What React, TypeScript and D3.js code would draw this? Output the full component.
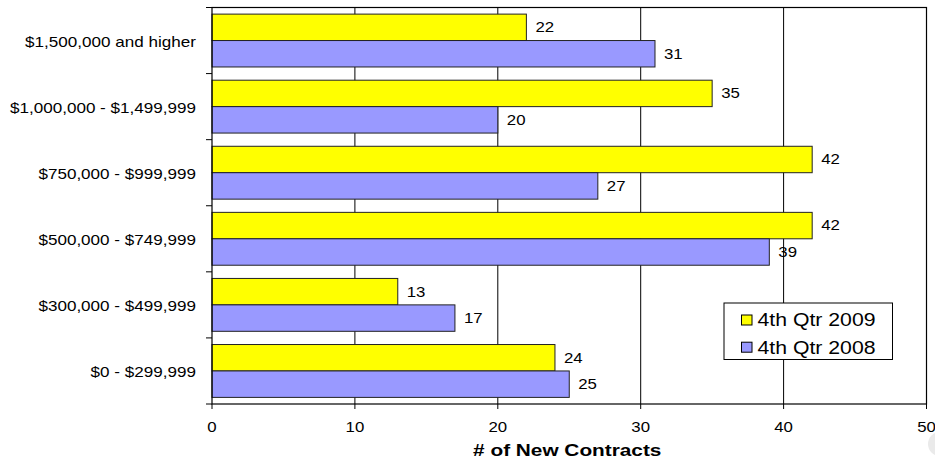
import React from "react";
import * as d3 from "d3";

const categories = [
  "$1,500,000 and higher",
  "$1,000,000 - $1,499,999",
  "$750,000 - $999,999",
  "$500,000 - $749,999",
  "$300,000 - $499,999",
  "$0 - $299,999",
];
const q4_2009 = [22, 35, 42, 42, 13, 24];
const q4_2008 = [31, 20, 27, 39, 17, 25];
const seriesNames = ["4th Qtr 2009", "4th Qtr 2008"];
const seriesColors = ["#FFFF00", "#9999FF"];
const xTicks = [0, 10, 20, 30, 40, 50];

const W = 935;
const H = 462;
const plot = { left: 212, right: 926.5, top: 7.5, bottom: 404 };
const font = "'Liberation Sans', Arial, sans-serif";

// Text drawn with a slight horizontal stretch
function Label(props: {
  x: number;
  y: number;
  size: number;
  sx?: number;
  anchor?: "start" | "middle" | "end";
  bold?: boolean;
  children: React.ReactNode;
}) {
  const { x, y, size, sx = 1.2, anchor = "start", bold = false, children } = props;
  return (
    <text
      transform={`translate(${x},${y}) scale(${sx},1)`}
      dy="0.35em"
      textAnchor={anchor}
      fontFamily={font}
      fontSize={size}
      fontWeight={bold ? "bold" : "normal"}
      fill="#000"
    >
      {children}
    </text>
  );
}

export default function App() {
  const x = d3.scaleLinear().domain([0, 50]).range([plot.left, plot.right]);
  const y = d3
    .scaleBand<string>()
    .domain(categories)
    .range([plot.top, plot.bottom])
    .paddingInner(0)
    .paddingOuter(0);
  const band = y.bandwidth();
  const pad = band * 0.1;
  const barH = (band - 2 * pad) / 2;
  const series = [q4_2009, q4_2008];

  return (
    <svg width={W} height={H} style={{ display: "block", position: "absolute", left: 0, top: 0 }}>
      <rect x={0} y={0} width={W} height={H} fill="#fff" />
      {/* vertical gridlines */}
      {xTicks.slice(1, -1).map((t) => (
        <line key={t} x1={x(t)} x2={x(t)} y1={plot.top} y2={plot.bottom} stroke="#000" strokeWidth={1} />
      ))}
      {/* bars with value labels */}
      {categories.map((c, i) =>
        series.map((s, k) => {
          const by = (y(c) as number) + pad + k * barH;
          return (
            <g key={c + k}>
              <rect
                x={x(0)}
                y={by}
                width={x(s[i]) - x(0)}
                height={barH}
                fill={seriesColors[k]}
                stroke="#222"
                strokeWidth={1}
              />
              <Label x={x(s[i]) + 9} y={by + barH / 2} size={14}>
                {s[i]}
              </Label>
            </g>
          );
        })
      )}
      {/* plot frame */}
      <rect
        x={plot.left}
        y={plot.top}
        width={plot.right - plot.left}
        height={plot.bottom - plot.top}
        fill="none"
        stroke="#000"
        strokeWidth={1.2}
      />
      {/* left axis ticks */}
      {d3.range(categories.length + 1).map((i) => {
        const yy = plot.top + i * band;
        return <line key={i} x1={plot.left - 6} x2={plot.left} y1={yy} y2={yy} stroke="#000" />;
      })}
      {/* category labels */}
      {categories.map((c) => (
        <Label key={c} x={196} y={(y(c) as number) + band / 2 + 1.5} size={14} sx={1.22} anchor="end">
          {c}
        </Label>
      ))}
      {/* bottom axis ticks and labels */}
      {xTicks.map((t) => (
        <g key={t}>
          <line x1={x(t)} x2={x(t)} y1={plot.bottom} y2={plot.bottom + 5} stroke="#000" />
          <Label x={x(t)} y={427} size={14} anchor="middle">
            {t}
          </Label>
        </g>
      ))}
      <Label x={(plot.left + plot.right) / 2 - 2} y={450.5} size={16} sx={1.3} anchor="middle" bold>
        # of New Contracts
      </Label>
      {/* legend */}
      <g>
        <rect x={724} y={303} width={168.5} height={56.5} fill="#fff" stroke="#000" strokeWidth={1} />
        {seriesNames.map((n, k) => {
          const cy = 320 + k * 27.2;
          return (
            <g key={n}>
              <rect x={741.5} y={cy - 5} width={10.5} height={10} fill={seriesColors[k]} stroke="#000" strokeWidth={1} />
              <Label x={757.5} y={cy} size={18} sx={1.18}>
                {n}
              </Label>
            </g>
          );
        })}
      </g>
      <circle cx={940} cy={444} r={12} fill="#eaeaea" />
    </svg>
  );
}
